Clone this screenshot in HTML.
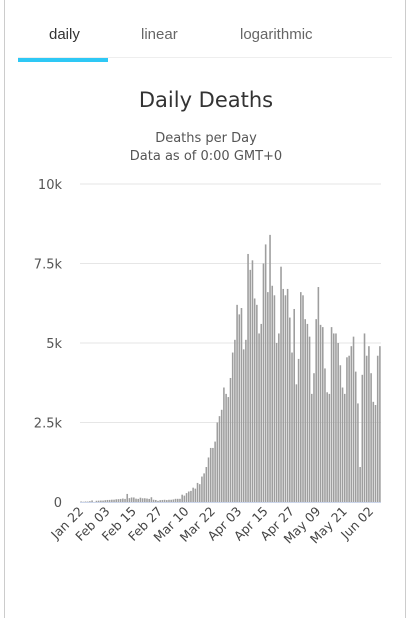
<!DOCTYPE html>
<html><head><meta charset="utf-8"><style>
body{margin:0;width:413px;height:609px;background:#fff;overflow:hidden;font-family:"Liberation Sans",sans-serif;position:relative}
.card{position:absolute;left:4px;top:-2px;width:400px;height:620px;border-left:1px solid #ccc;border-right:1px solid #ccc}
.tab{position:absolute;top:26px;font-size:15px;color:#666}
</style></head><body>
<div class="card"></div>
<div class="tab" style="left:49px;color:#333">daily</div>
<div class="tab" style="left:141px">linear</div>
<div class="tab" style="left:240px">logarithmic</div>
<div style="position:absolute;left:18px;top:57px;width:374px;height:1px;background:#eee"></div>
<div style="position:absolute;left:18px;top:58px;width:90px;height:4px;background:#2ec8f5"></div>
<svg id="chart" width="413" height="609" style="position:absolute;left:0;top:0">
<text x="206" y="107" text-anchor="middle" font-family="DejaVu Sans,sans-serif" font-size="21" fill="#333">Daily Deaths</text>
<text x="206" y="142" text-anchor="middle" font-family="DejaVu Sans,sans-serif" font-size="13" fill="#555">Deaths per Day</text>
<text x="206" y="160" text-anchor="middle" font-family="DejaVu Sans,sans-serif" font-size="13" fill="#555">Data as of 0:00 GMT+0</text>
</svg>
<script>
const yTicks=[0,2500,5000,7500,10000];
const yTickLabels=["0","2.5k","5k","7.5k","10k"];
const xLabels=["Jan 22","Feb 03","Feb 15","Feb 27","Mar 10","Mar 22","Apr 03","Apr 15","Apr 27","May 09","May 21","Jun 02"];
const janDeaths=[17,8,16,14,26,49,2,38,42,46];
const febDeaths=[45,57,64,66,73,73,86,89,97,108,97,254,121,143,142,105,98,136,116,118,109,97,150,71,64,37,58,64,70];
const marDeaths=[60,70,70,80,100,100,100,230,200,280,330,350,450,420,600,560,800,900,1100,1400,1700,1700,1900,2500,2700,2900,3600,3400,3300,3900,4700];
const aprDeaths=[5100,6200,5900,6100,4800,5100,7800,7300,7600,6400,6200,5300,5600,7500,8100,6600,8400,6800,6500,5000,5300,7400,6700,6500,6700,5800,4700,6070,3700,4500,6600,6500];
const mayJunDeaths=[5750,5600,5200,3400,4050,5750,6760,5570,5500,4200,3450,3400,5500,5300,5300,5000,4300,3600,3400,4550,4600,4900,5200,4100,3100,1100,4000,5300,4600,4900,4050,3150,3050,4600,4900];
const deaths=[].concat(janDeaths,febDeaths,marDeaths,aprDeaths,mayJunDeaths);
const svg=document.getElementById('chart');const NS='http://www.w3.org/2000/svg';
const x0=80,x1=381,yBase=502,yTop=184,yMax=10000;
const N=deaths.length;const step=(x1-x0)/N;
const xs=i=>x0+i*step;const ys=v=>yBase-(v/yMax)*(yBase-yTop);
function mk(t,a){const e=document.createElementNS(NS,t);for(const k in a)e.setAttribute(k,a[k]);svg.appendChild(e);return e;}
yTicks.forEach((v,i)=>{
 if(v>0){const g=mk('line',{x1:x0,x2:x1,y1:ys(v),y2:ys(v),stroke:'#e6e6e6','stroke-width':1});
 
 }
 const t=mk('text',{x:62,y:ys(v)+5,'text-anchor':'end','font-size':13,fill:'#555','font-family':'DejaVu Sans,sans-serif'});
 t.textContent=yTickLabels[i];
 
 
});
deaths.forEach((v,i)=>{
 const b=mk('rect',{x:xs(i)+0.3,y:ys(v),width:step*0.72,height:Math.max(0,yBase-ys(v)),fill:'#9e9e9e'});
 
 
});
const ax=mk('line',{x1:x0,x2:x1,y1:yBase+0.5,y2:yBase+0.5,stroke:'#ccd6eb'});


xLabels.forEach((l,i)=>{
 const cx=xs(i*12)+step/2+3,cy=yBase+10;
 const t=mk('text',{x:cx,y:cy,'text-anchor':'end','font-size':12.5,fill:'#444','font-family':'DejaVu Sans,sans-serif',transform:`rotate(-45 ${cx} ${cy})`});
 t.textContent=l;
 
 
});
</script>
</body></html>
